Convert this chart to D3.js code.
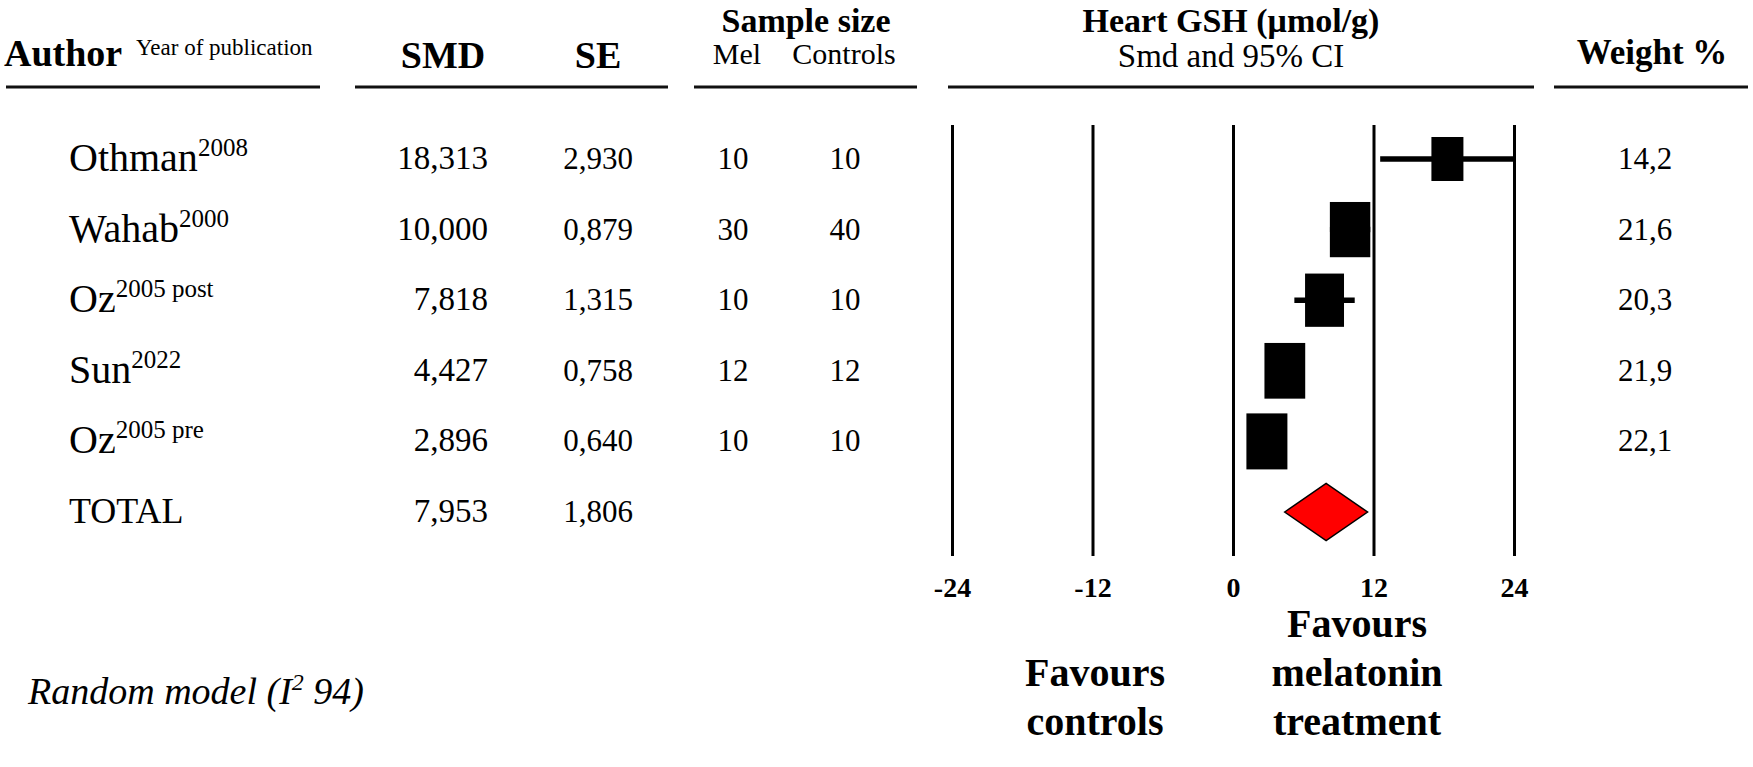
<!DOCTYPE html>
<html>
<head>
<meta charset="utf-8">
<script src="https://cdn.jsdelivr.net/npm/d3@7"></script>
<style>
  body { margin: 0; background: #fff; }
  text { font-family: "Liberation Serif", "Times New Roman", serif; fill: #000; }
</style>
</head>
<body>
<svg id="chart"></svg>
<script>
// study rows, top to bottom
var authors = ["Othman", "Wahab", "Oz", "Sun", "Oz"];
var years = ["2008", "2000", "2005 post", "2022", "2005 pre"];
var smd = [18.313, 10.000, 7.818, 4.427, 2.896];
var se = [2.930, 0.879, 1.315, 0.758, 0.640];
var nMel = [10, 30, 10, 12, 10];
var nControls = [10, 40, 10, 12, 10];
var weights = [14.2, 21.6, 20.3, 21.9, 22.1];
var totalSmd = 7.953;
var totalSe = 1.806;
var axisTicks = [-24, -12, 0, 12, 24];

var width = 1753, height = 767;
var serif = "'Liberation Serif', 'Times New Roman', serif";

var svg = d3.select("#chart")
    .attr("width", width)
    .attr("height", height);

// comma as decimal mark
var locale = d3.formatLocale({ decimal: ",", thousands: ".", grouping: [3], currency: ["", ""] });
var f3 = locale.format(".3f"),
    f1 = locale.format(".1f");

var x = d3.scaleLinear().domain([-24, 24]).range([952, 1514]).clamp(true);
var y = d3.scaleLinear().domain([0, 5]).range([159, 512]);
var boxW = d3.scaleLinear().domain([14.2, 22.1]).range([32, 41]);
var boxH = d3.scaleLinear().domain([14.2, 22.1]).range([44, 56]);

function label(txt, xp, yp, size, opts) {
    opts = opts || {};
    return svg.append("text")
        .attr("x", xp)
        .attr("y", yp)
        .attr("text-anchor", opts.anchor || "start")
        .style("font-family", serif)
        .style("font-size", size + "px")
        .style("font-weight", opts.bold ? "bold" : "normal")
        .style("font-style", opts.italic ? "italic" : "normal")
        .text(txt);
}

// ---- header
label("Author", 4, 66, 38, { bold: true });
label("Year of publication", 136, 55, 23);
label("SMD", 443, 68, 38, { bold: true, anchor: "middle" });
label("SE", 598, 68, 38, { bold: true, anchor: "middle" });
label("Sample size", 806, 32, 34, { bold: true, anchor: "middle" });
label("Mel", 737, 64, 30, { anchor: "middle" });
label("Controls", 844, 64, 30, { anchor: "middle" });
label("Heart GSH (\u03bcmol/g)", 1231, 32, 34, { bold: true, anchor: "middle" });
label("Smd and 95% CI", 1231, 67, 33, { anchor: "middle" });
label("Weight %", 1652, 64, 35, { bold: true, anchor: "middle" });

var rules = [[6, 320], [355, 668], [694, 917], [948, 1534], [1554, 1748]];
svg.selectAll(".rule").data(rules).enter()
    .append("line")
    .attr("class", "rule")
    .attr("x1", function (d) { return d[0]; })
    .attr("x2", function (d) { return d[1]; })
    .attr("y1", 87).attr("y2", 87)
    .style("stroke", "#111")
    .style("stroke-width", 3);

// ---- axis: vertical reference lines + tick labels
var xAxis = d3.axisBottom(x)
    .tickValues(axisTicks)
    .tickSizeInner(-431)
    .tickSizeOuter(0)
    .tickPadding(21)
    .tickFormat(function (d) { return String(d); });

var gAxis = svg.append("g")
    .attr("transform", "translate(0,556)")
    .call(xAxis);
gAxis.select(".domain").remove();
gAxis.selectAll(".tick line").style("stroke", "#000").style("stroke-width", 3);
gAxis.selectAll(".tick text")
    .style("font-family", serif)
    .style("font-size", "28px")
    .style("font-weight", "bold")
    .style("fill", "#000");

// ---- rows
var rows = authors.map(function (a, i) {
    return { author: a, year: years[i], smd: smd[i], se: se[i], mel: nMel[i], ctrl: nControls[i], w: weights[i], i: i };
});

var row = svg.selectAll(".row").data(rows).enter()
    .append("g").attr("class", "row");

var authorText = row.append("text")
    .attr("x", 69)
    .attr("y", function (d) { return y(d.i) + 12; })
    .style("font-family", serif)
    .style("font-size", "40px");
authorText.append("tspan").text(function (d) { return d.author; });
authorText.append("tspan")
    .attr("dy", -15)
    .style("font-size", "25px")
    .text(function (d) { return d.year; });

function numCol(getter, xp, anchor, size) {
    row.append("text")
        .attr("x", xp)
        .attr("y", function (d) { return y(d.i) + 10; })
        .attr("text-anchor", anchor)
        .style("font-family", serif)
        .style("font-size", size + "px")
        .text(getter);
}
numCol(function (d) { return f3(d.smd); }, 488, "end", 33);
numCol(function (d) { return f3(d.se); }, 633, "end", 31);
numCol(function (d) { return d.mel; }, 733, "middle", 31);
numCol(function (d) { return d.ctrl; }, 845, "middle", 31);
numCol(function (d) { return f1(d.w); }, 1645, "middle", 31);

// CI whiskers
row.append("line")
    .attr("x1", function (d) { return x(d.smd - 1.96 * d.se); })
    .attr("x2", function (d) { return x(d.smd + 1.96 * d.se); })
    .attr("y1", function (d) { return y(d.i); })
    .attr("y2", function (d) { return y(d.i); })
    .style("stroke", "#000")
    .style("stroke-width", 5.5);

// weight boxes
row.append("rect")
    .attr("x", function (d) { return x(d.smd) - boxW(d.w) / 2; })
    .attr("y", function (d) { return y(d.i) - boxH(d.w) / 2; })
    .attr("width", function (d) { return boxW(d.w); })
    .attr("height", function (d) { return boxH(d.w); })
    .style("fill", "#000");

// ---- total
var yt = y(5);
label("TOTAL", 69, yt + 11, 36);
label(f3(totalSmd), 488, yt + 10, 33, { anchor: "end" });
label(f3(totalSe), 633, yt + 10, 31, { anchor: "end" });

var lo = x(totalSmd - 1.96 * totalSe), hi = x(totalSmd + 1.96 * totalSe), mid = x(totalSmd);
svg.append("path")
    .attr("d", d3.line()([[lo, yt], [mid, yt - 28.5], [hi, yt], [mid, yt + 28.5]]) + "Z")
    .style("fill", "#ff0000")
    .style("stroke", "#000")
    .style("stroke-width", 1.5);

// ---- footer
var rm = svg.append("text")
    .attr("x", 28).attr("y", 704)
    .style("font-family", serif)
    .style("font-size", "38px")
    .style("font-style", "italic");
rm.append("tspan").text("Random model (I");
rm.append("tspan").attr("dy", -14).style("font-size", "24px").text("2");
rm.append("tspan").attr("dy", 14).text(" 94)");

function block(lines, cx, ys) {
    lines.forEach(function (t, i) {
        label(t, cx, ys[i], 40, { bold: true, anchor: "middle" });
    });
}
block(["Favours", "controls"], 1095, [686, 735]);
block(["Favours", "melatonin", "treatment"], 1357, [637, 686, 735]);
</script>
</body>
</html>
